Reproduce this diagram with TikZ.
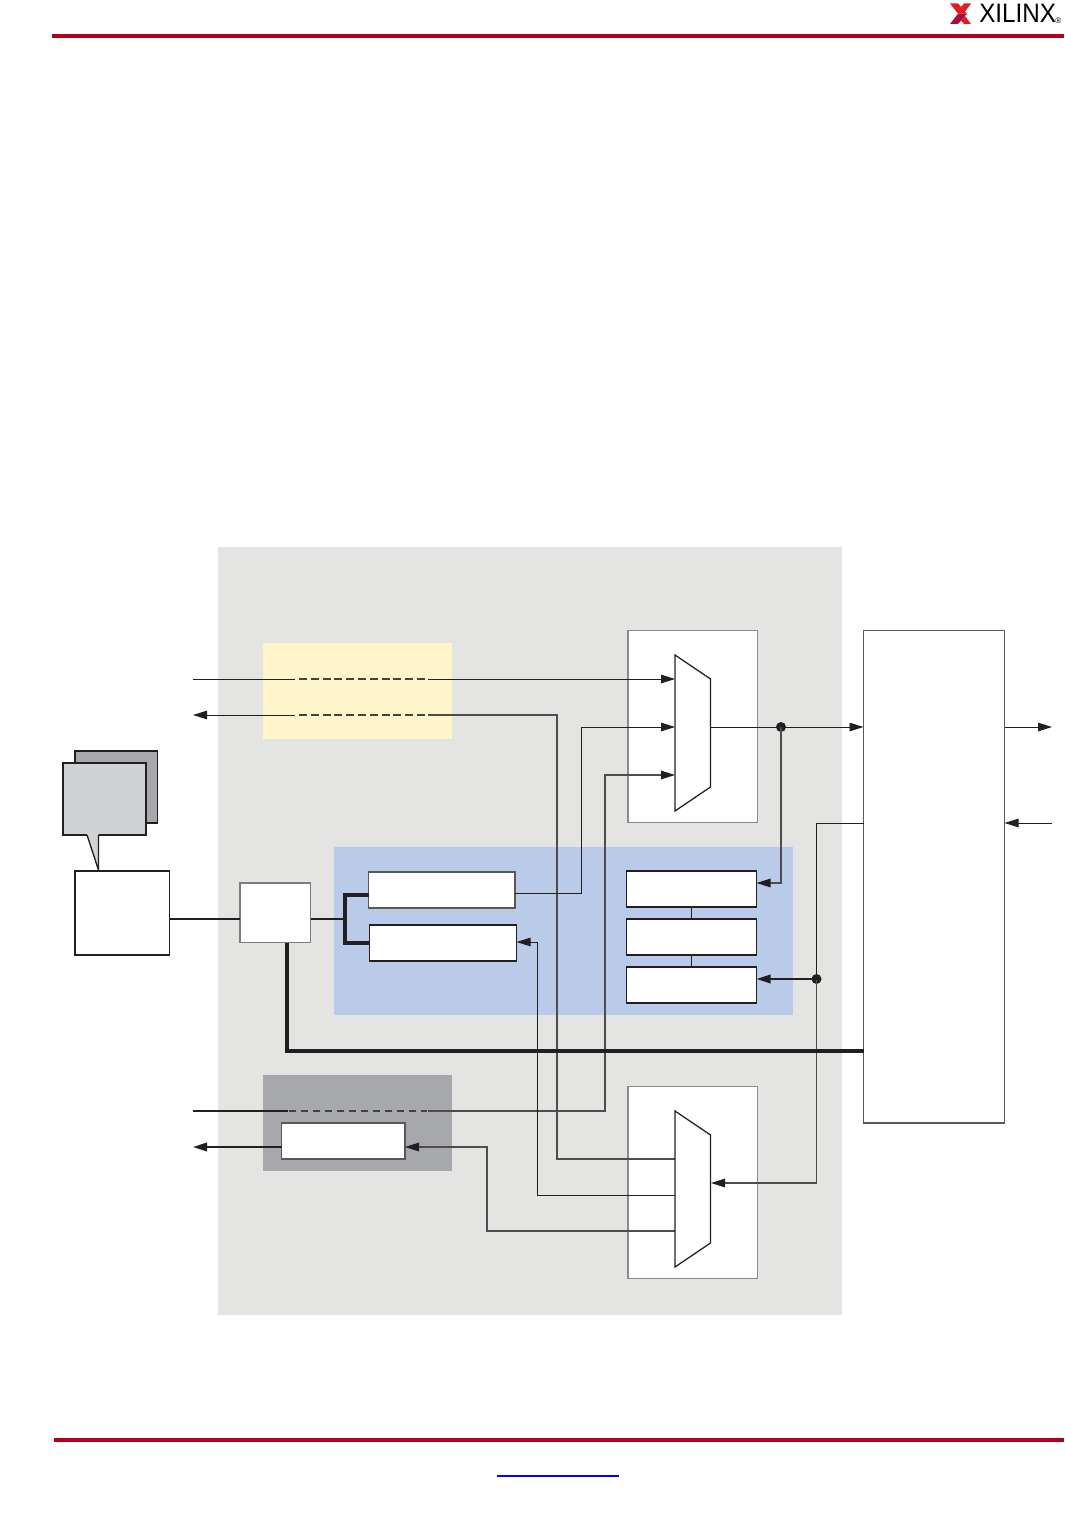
\documentclass[tikz,border=0pt]{standalone}
\usepackage{fontspec}
\setmainfont{Liberation Sans}
\usetikzlibrary{arrows.meta,calc}
\definecolor{ink}{HTML}{231F20}
\definecolor{ruleRed}{HTML}{B1001C}
\definecolor{logoRed}{HTML}{E31B23}
\definecolor{logoDark}{HTML}{A50F3C}
\definecolor{panelGray}{HTML}{E4E4E2}
\definecolor{bandYellow}{HTML}{FEF6CA}
\definecolor{bandBlue}{HTML}{B9CBE8}
\definecolor{bandGray}{HTML}{A7A8AB}
\definecolor{noteGray}{HTML}{D1D2D4}
\definecolor{edgeGray}{HTML}{8A8A8A}
\newcommand{\pbox}[6]{\node[#1,minimum width={(#5-#3)*0.75pt},minimum height={(#6-#4)*0.75pt}] (#2) at ({(#3+#5)/2},{(#4+#6)/2}) {};}
\tikzset{
  base/.style={rectangle,inner sep=0pt,outer sep=0pt},
  bandP/.style={base,fill=panelGray},
  bandY/.style={base,fill=bandYellow},
  bandB/.style={base,fill=bandBlue},
  bandG/.style={base,fill=bandGray},
  panel/.style={base,fill=white,draw=edgeGray,line width=0.9pt},
  blockbox/.style={base,fill=white,draw=ink,line width=1.15pt},
  softbox/.style={base,fill=white,draw=ink!75,line width=1.15pt},
  smallbox/.style={base,fill=white,draw=edgeGray!90!black,line width=1.2pt},
  note/.style={base,fill=noteGray,draw=ink,line width=1pt},
  noteback/.style={base,fill=bandGray,draw=ink,line width=1pt},
  muxshape/.style={fill=white,draw=ink,line width=0.95pt,line join=miter},
  wire/.style={draw=ink,line width=0.72pt},
  wiresoft/.style={draw=ink!80,line width=0.95pt},
  wirethick/.style={draw=ink,line width=2.6pt},
  wiremid/.style={draw=ink,line width=1.4pt},
  ahead/.style={-{Triangle[length=10.5pt,width=6.4pt,color=ink,fill=ink]}},
  dashseg/.style={draw=ink!85,line width=0.9pt,dash pattern=on 6pt off 2.85pt},
  dotmark/.style={circle,fill=ink,inner sep=0pt,minimum size=7.5pt},
  rulebar/.style={draw=ruleRed,line width=2.8pt},
  linkbar/.style={draw=blue,line width=1.1pt},
}
\begin{document}
\begin{tikzpicture}[x=0.75pt,y=-0.75pt]
\useasboundingbox (0,0) rectangle (1064,1516);
\fill[white] (0,0) rectangle (1064,1516);

% header and footer
\coordinate (topL) at (52,36); \coordinate (topR) at (1064,36);
\coordinate (botL) at (54,1440); \coordinate (botR) at (1064,1440);
\coordinate (linkL) at (497,1476); \coordinate (linkR) at (619,1476);
\draw[rulebar] (topL) -- (topR);
\draw[rulebar] (botL) -- (botR);
\draw[linkbar] (linkL) -- (linkR);
\fill[logoRed] (950,3.5) -- (958,3.5) -- (967,13.7) -- (958,13.7) -- cycle;
\fill[logoDark] (950,24) -- (958,24) -- (967,13.7) -- (958,13.7) -- cycle;
\fill[logoRed] (971,3.5) -- (964,3.5) -- (961,7) -- (965,11.5) -- cycle;
\fill[logoRed] (971,24) -- (964,24) -- (961,20.5) -- (965,16) -- cycle;
\node[inner sep=0pt,anchor=base west,font=\fontsize{20pt}{20pt}\selectfont,xscale=0.91] (logotext) at (979,23) {XILINX};
\node[inner sep=0pt,anchor=base west,font=\fontsize{6pt}{6pt}\selectfont] (logomark) at (1055,24) {®};

% background regions
\pbox{bandP}{region}{218}{547}{842}{1315}
\pbox{bandY}{yellowband}{263}{643}{452}{739}
\pbox{bandB}{blueband}{334}{847}{793}{1015}
\pbox{bandG}{grayband}{263}{1075}{452}{1171}
\pbox{panel}{panelTop}{628}{630.5}{757.5}{822.5}
\pbox{panel}{panelBot}{628}{1086.5}{757.5}{1278.5}

% callout
\pbox{noteback}{noteBack}{75}{751}{157.5}{823}
\coordinate (tailA) at (87,835); \coordinate (tailB) at (98.5,835); \coordinate (tailTip) at (98.5,870);
\pbox{note}{noteFront}{63}{763}{146}{835}
\fill[noteGray] (87.2,833) -- (tailA) -- (tailTip) -- (tailB) -- (98.3,833) -- cycle;
\draw[ink,line width=1pt,line join=miter] (tailA) -- (tailTip) -- (tailB);

% blocks
\pbox{blockbox}{ctrl}{75}{871}{169.5}{955}
\pbox{smallbox}{hub}{240}{883}{310.5}{942.5}
\pbox{softbox}{big}{863.5}{630.5}{1004.5}{1123}
\pbox{softbox}{boxA}{368.5}{872}{515}{908}
\pbox{blockbox}{boxB}{369.5}{925}{516.5}{961}
\pbox{blockbox}{boxC}{626.5}{871}{756.5}{907}
\pbox{blockbox}{boxD}{626.5}{919}{756.5}{955}
\pbox{blockbox}{boxE}{626.5}{967}{756.5}{1003}
\pbox{softbox}{boxF}{281.5}{1123}{405}{1159}

% free ends and bends
\coordinate (inA) at (193,679);
\coordinate (outA) at (193,715);
\coordinate (inB) at (193,1111);
\coordinate (outB) at (193,1147);
\coordinate (rOut) at (1052,727);
\coordinate (rIn) at (1052,823);
\coordinate (bigIn) at (863.5,727);
\coordinate (bigCtl) at (863.5,823);
\coordinate (bigBus) at (863.5,1051);
\coordinate (muxTin1) at (675,679);
\coordinate (muxTin2) at (675,727);
\coordinate (muxTin3) at (675,775);
\coordinate (muxTout) at (710.5,727);
\coordinate (muxBin1) at (675,1159);
\coordinate (muxBin2) at (675,1195);
\coordinate (muxBin3) at (675,1231);
\coordinate (muxBctl) at (711,1183);
\node[dotmark] (dotTop) at (781,727) {};
\node[dotmark] (dotBot) at (816.5,979) {};

% wires (under the muxes)
\draw[wire] (inA) -- (295,679);
\draw[dashseg] (299,679) -- (425,679);
\draw[wire,ahead] (428,679) -- (muxTin1);

\draw[wiresoft,line width=0.85pt] (muxBin1) -- (557,1159) -- (557,715) -- (428,715);
\draw[dashseg] (425,715) -- (299,715);
\draw[wire,ahead] (295,715) -- (outA);

\draw[wire,ahead] (boxA.east |- 0,893) -- (581,893) -- (581,727) -- (muxTin2);

\draw[wiremid] (inB) -- (288,1111);
\draw[dashseg,line width=1pt,dash pattern=on 5.6pt off 3.4pt] (289,1111) -- (427,1111);
\draw[wiresoft,ahead] (428,1111) -- (605,1111) -- (605,775) -- (muxTin3);

\draw[wire,ahead] (muxTout) -- (bigIn);
\draw[wiresoft,ahead] (dotTop.center) -- (781,883) -- (boxC.east |- 0,883);
\draw[wire] (boxC.south -| 691.5,0) -- (boxD.north -| 691.5,0);
\draw[wire] (boxD.south -| 691.5,0) -- (boxE.north -| 691.5,0);

\draw[wire] (bigCtl) -- (816.5,823) -- (dotBot.center);
\draw[wiresoft,ahead] (dotBot.center) -- (816.5,1183) -- (muxBctl);
\draw[wiremid,ahead] (dotBot.center) -- (boxE.east |- 0,979);

\draw[wirethick] (hub.south -| 287,0) -- (287,1051) -- (bigBus);
\draw[wirethick,line width=1.7pt] (ctrl.east |- 0,919) -- (hub.west |- 0,919);
\draw[wiremid,line width=1.3pt] (hub.east |- 0,919) -- (345,919);
\draw[wirethick,line join=miter] (boxA.west |- 0,895) -- (345,895) -- (345,943) -- (boxB.west |- 0,943);

\draw[wire,ahead] (muxBin2) -- (537.5,1195) -- (537.5,942) -- (boxB.east |- 0,942);
\draw[wiresoft,ahead] (muxBin3) -- (487,1231) -- (487,1147) -- (boxF.east |- 0,1147);
\draw[wiremid,ahead] (boxF.west |- 0,1147) -- (outB);

\draw[wire,ahead] (big.east |- 0,727) -- (rOut);
\draw[wire,ahead] (rIn) -- (big.east |- 0,823);

% multiplexers
\draw[muxshape] (675,655) -- (710.5,679) -- (710.5,787) -- (675,811) -- cycle;
\draw[muxshape] (675,1111) -- (710.5,1135) -- (710.5,1243) -- (675,1267) -- cycle;
\end{tikzpicture}
\end{document}
